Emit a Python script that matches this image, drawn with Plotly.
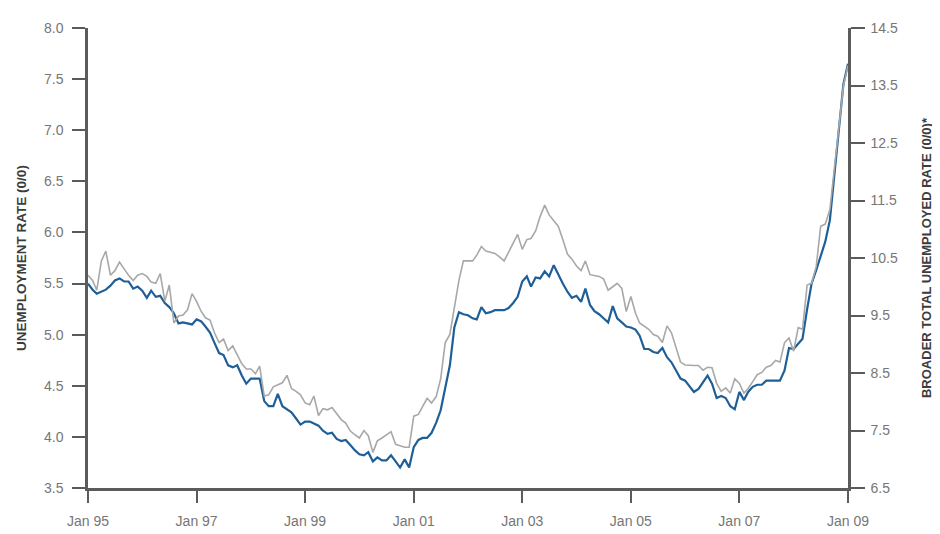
import plotly.graph_objects as go
import pandas as pd

# Monthly observations, Jan 1995 .. Jan 2009
months = pd.date_range("1995-01-01", "2009-01-01", freq="MS")

# Unemployment rate (left axis, %)
unemployment_rate = (
    [5.50, 5.44, 5.40, 5.42, 5.44, 5.48, 5.53, 5.55, 5.52, 5.52, 5.45, 5.47]    # 1995
    + [5.43, 5.36, 5.43, 5.37, 5.38, 5.31, 5.27, 5.21, 5.11, 5.12, 5.11, 5.10]  # 1996
    + [5.15, 5.13, 5.08, 5.02, 4.92, 4.82, 4.80, 4.70, 4.68, 4.70, 4.60, 4.52]  # 1997
    + [4.57, 4.57, 4.57, 4.35, 4.30, 4.30, 4.42, 4.30, 4.27, 4.24, 4.18, 4.12]  # 1998
    + [4.15, 4.15, 4.13, 4.11, 4.06, 4.03, 4.04, 3.98, 3.96, 3.97, 3.92, 3.87]  # 1999
    + [3.83, 3.82, 3.85, 3.76, 3.80, 3.77, 3.77, 3.82, 3.76, 3.70, 3.78, 3.70]  # 2000
    + [3.90, 3.97, 3.99, 3.99, 4.04, 4.14, 4.26, 4.47, 4.70, 5.07, 5.22, 5.20]  # 2001
    + [5.19, 5.16, 5.15, 5.27, 5.21, 5.22, 5.24, 5.24, 5.24, 5.26, 5.31, 5.37]  # 2002
    + [5.52, 5.57, 5.47, 5.56, 5.55, 5.62, 5.57, 5.68, 5.58, 5.50, 5.42, 5.36]  # 2003
    + [5.38, 5.32, 5.45, 5.29, 5.23, 5.20, 5.16, 5.12, 5.28, 5.16, 5.12, 5.08]  # 2004
    + [5.07, 5.05, 4.99, 4.86, 4.86, 4.83, 4.82, 4.87, 4.78, 4.73, 4.65, 4.57]  # 2005
    + [4.55, 4.49, 4.44, 4.47, 4.54, 4.60, 4.52, 4.38, 4.40, 4.38, 4.30, 4.27]  # 2006
    + [4.44, 4.36, 4.44, 4.49, 4.51, 4.51, 4.55, 4.55, 4.55, 4.55, 4.65, 4.87]  # 2007
    + [4.86, 4.91, 4.96, 5.25, 5.50, 5.63, 5.78, 5.91, 6.12, 6.58, 7.05, 7.45]  # 2008
    + [7.65]                                                                    # 2009
)

# Broader total unemployed rate (right axis, %)
broader_rate = (
    [10.20, 10.11, 9.94, 10.45, 10.62, 10.20, 10.28, 10.43, 10.31, 10.20, 10.11, 10.20]  # 1995
    + [10.23, 10.18, 10.08, 10.06, 10.23, 9.75, 10.03, 9.37, 9.49, 9.51, 9.60, 9.88]    # 1996
    + [9.74, 9.57, 9.46, 9.42, 9.20, 9.03, 9.09, 8.89, 8.97, 8.83, 8.66, 8.57]          # 1997
    + [8.57, 8.49, 8.62, 8.10, 8.12, 8.26, 8.29, 8.33, 8.46, 8.23, 8.18, 8.12]          # 1998
    + [7.98, 7.95, 8.10, 7.76, 7.88, 7.86, 7.90, 7.80, 7.69, 7.63, 7.49, 7.43]          # 1999
    + [7.37, 7.50, 7.41, 7.12, 7.32, 7.37, 7.42, 7.48, 7.26, 7.24, 7.21, 7.21]          # 2000
    + [7.75, 7.78, 7.92, 8.06, 7.98, 8.09, 8.40, 9.03, 9.17, 9.60, 10.11, 10.45]        # 2001
    + [10.45, 10.45, 10.55, 10.70, 10.62, 10.60, 10.58, 10.52, 10.45, 10.60, 10.77, 10.91]  # 2002
    + [10.65, 10.82, 10.84, 10.97, 11.22, 11.42, 11.25, 11.14, 11.05, 10.82, 10.57, 10.48]  # 2003
    + [10.36, 10.28, 10.45, 10.21, 10.19, 10.18, 10.14, 9.94, 10.00, 10.06, 9.97, 9.57]     # 2004
    + [9.83, 9.54, 9.37, 9.32, 9.26, 9.17, 9.14, 9.03, 9.32, 9.20, 8.94, 8.69]          # 2005
    + [8.64, 8.63, 8.63, 8.63, 8.55, 8.60, 8.59, 8.32, 8.18, 8.24, 8.15, 8.40]          # 2006
    + [8.32, 8.15, 8.23, 8.35, 8.47, 8.51, 8.60, 8.63, 8.72, 8.69, 9.03, 9.11]          # 2007
    + [8.88, 9.29, 9.26, 10.03, 10.06, 10.35, 11.05, 11.09, 11.34, 12.05, 12.77, 13.49]  # 2008
    + [13.85]                                                                           # 2009
)

x_tick_dates = ["1995-01-01", "1997-01-01", "1999-01-01", "2001-01-01",
                "2003-01-01", "2005-01-01", "2007-01-01", "2009-01-01"]
x_tick_labels = ["Jan 95", "Jan 97", "Jan 99", "Jan 01",
                 "Jan 03", "Jan 05", "Jan 07", "Jan 09"]

left_title = "UNEMPLOYMENT RATE (0/0)"
right_title = "BROADER TOTAL UNEMPLOYED RATE (0/0)*"

AXIS = "#5b5b5b"
TICKFONT = dict(family="Liberation Sans, Arial, sans-serif", size=14, color="#767676")
LEFT_TITLEFONT = dict(family="Liberation Sans, Arial, sans-serif", size=13.5, color="#3c3c3c", weight="bold")
RIGHT_TITLEFONT = dict(family="Liberation Sans, Arial, sans-serif", size=13, color="#3c3c3c", weight="bold")

fig = go.Figure()
fig.add_trace(go.Scatter(x=months, y=broader_rate, mode="lines", yaxis="y2",
                         line=dict(color="#a8a8a8", width=1.6), name="Broader"))
fig.add_trace(go.Scatter(x=months, y=unemployment_rate, mode="lines", yaxis="y",
                         line=dict(color="#1f5f98", width=2.2), name="Unemployment"))

# the page body adds an 8px offset, so margins are reduced by 8 on left/top
fig.update_layout(
    width=940, height=534,
    margin=dict(l=79, r=100, t=12, b=54),
    paper_bgcolor="white", plot_bgcolor="white",
    showlegend=False,
    xaxis=dict(type="date", range=["1995-01-01", "2009-01-01"],
               tickvals=x_tick_dates, ticktext=x_tick_labels,
               showline=True, linecolor=AXIS, linewidth=2.5,
               ticks="outside", ticklen=12, tickwidth=2, tickcolor=AXIS,
               ticklabelstandoff=6,
               showgrid=False, zeroline=False, tickfont=TICKFONT),
    yaxis=dict(range=[3.5, 8.0], dtick=0.5, tick0=3.5, tickformat=".1f",
               showline=True, linecolor=AXIS, linewidth=2.5,
               ticks="outside", ticklen=13, tickwidth=2, tickcolor=AXIS,
               ticklabelstandoff=6,
               showgrid=False, zeroline=False, tickfont=TICKFONT,
               title=dict(text=left_title, font=LEFT_TITLEFONT, standoff=15)),
    yaxis2=dict(range=[6.5, 14.5], dtick=1, tick0=6.5, tickformat=".1f",
                overlaying="y", side="right",
                showline=True, linecolor=AXIS, linewidth=2.5,
                ticks="outside", ticklen=14, tickwidth=2, tickcolor=AXIS,
                ticklabelstandoff=3,
                showgrid=False, zeroline=False, tickfont=TICKFONT,
                title=dict(text=right_title, font=RIGHT_TITLEFONT, standoff=25)),
)

fig.write_html("out.html")
